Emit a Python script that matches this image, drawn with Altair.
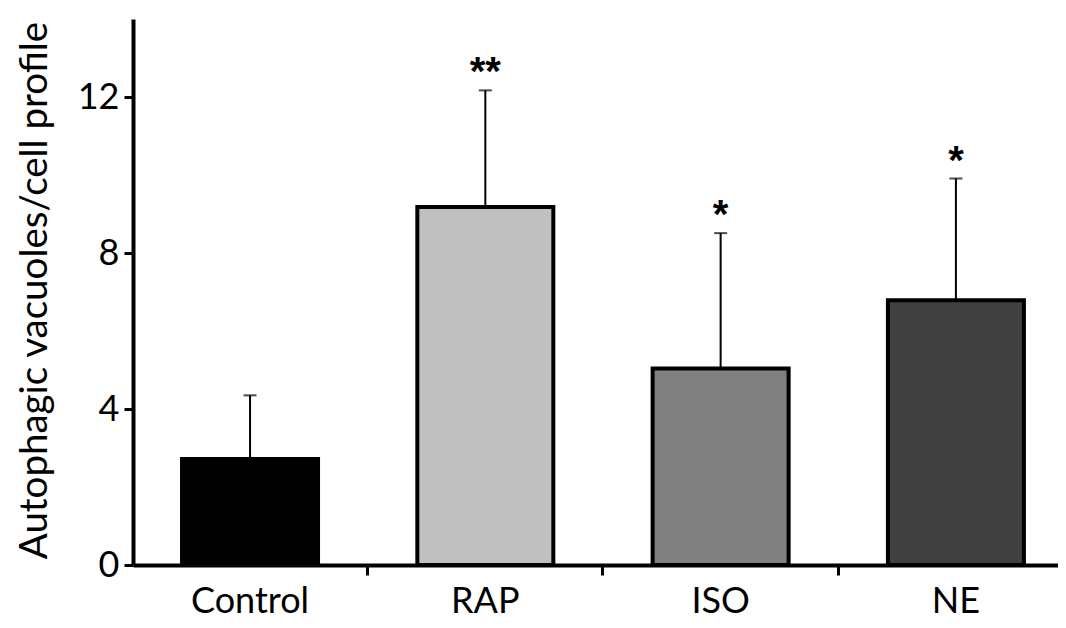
import altair as alt
import pandas as pd

groups = ["Control", "RAP", "ISO", "NE"]
means = [2.72, 9.18, 5.04, 6.79]
upper = [4.35, 12.17, 8.51, 9.91]
stars = ["", "**", "*", "*"]
colors = ["#000000", "#c0c0c0", "#808080", "#404040"]

df = pd.DataFrame({"group": groups, "mean": means, "upper": upper, "star": stars})

FONT = "Lato"

xscale = alt.Scale(domain=groups, paddingInner=0.422, paddingOuter=0.1766, align=0.59)
yscale = alt.Scale(domain=[0, 14], nice=False, zero=True)

yaxis = alt.Axis(values=[0, 4, 8, 12], title="Autophagic vacuoles/cell profile",
                 titleFontSize=38.5, titleFont=FONT, titleFontWeight="normal",
                 titleColor="black", titleAngle=270, titleX=-99, titleY=271,
                 titleAlign="center", titleBaseline="middle",
                 labelFontSize=36, labelFont=FONT, labelColor="black",
                 labelPadding=5, tickSize=9, tickWidth=3, tickColor="black",
                 domainColor="black", domainWidth=4, grid=False)

base = alt.Chart(df)

bars = base.mark_bar(stroke="black", strokeWidth=4).encode(
    x=alt.X("group:N", scale=xscale, sort=groups,
            axis=alt.Axis(title=None, orient="bottom", ticks=False, labelAngle=0,
                          labelFontSize=36, labelFont=FONT, labelColor="black",
                          labelPadding=19, domainColor="black", domainWidth=4)),
    y=alt.Y("mean:Q", scale=yscale, axis=yaxis),
    fill=alt.Fill("group:N", scale=alt.Scale(domain=groups, range=colors), legend=None),
)

ticks_layer = base.mark_bar(opacity=0).encode(
    x=alt.X("group:N", scale=xscale, sort=groups,
            axis=alt.Axis(title=None, orient="bottom", labels=False, domain=False,
                          values=["Control", "RAP", "ISO"], bandPosition=1.365,
                          ticks=True, tickSize=10, tickWidth=3, tickColor="black")),
    y=alt.Y("mean:Q", scale=yscale, axis=yaxis),
)

err = base.mark_rule(color="black", strokeWidth=2).encode(
    x=alt.X("group:N", scale=xscale, sort=groups, axis=None),
    y=alt.Y("mean:Q", scale=yscale, axis=yaxis),
    y2="upper:Q",
)

caps = base.mark_tick(color="black", thickness=2, size=13, orient="horizontal").encode(
    x=alt.X("group:N", scale=xscale, sort=groups, axis=None),
    y=alt.Y("upper:Q", scale=yscale, axis=yaxis),
)

star_text = base.mark_text(fontSize=40, font="Liberation Sans", fontWeight="bold",
                           color="black", baseline="middle", dy=-17).encode(
    x=alt.X("group:N", scale=xscale, sort=groups, axis=None),
    y=alt.Y("upper:Q", scale=yscale, axis=yaxis),
    text="star:N",
)

chart = alt.layer(bars, ticks_layer, err, caps, star_text).resolve_axis(
    x="independent"
).properties(
    width=925, height=546,
    autosize=alt.AutoSizeParams(type="none"),
    padding={"left": 125, "top": 11, "right": 0, "bottom": 55},
).configure_view(stroke=None)

chart.save("out.html", embed_options={"renderer": "svg", "actions": False})
